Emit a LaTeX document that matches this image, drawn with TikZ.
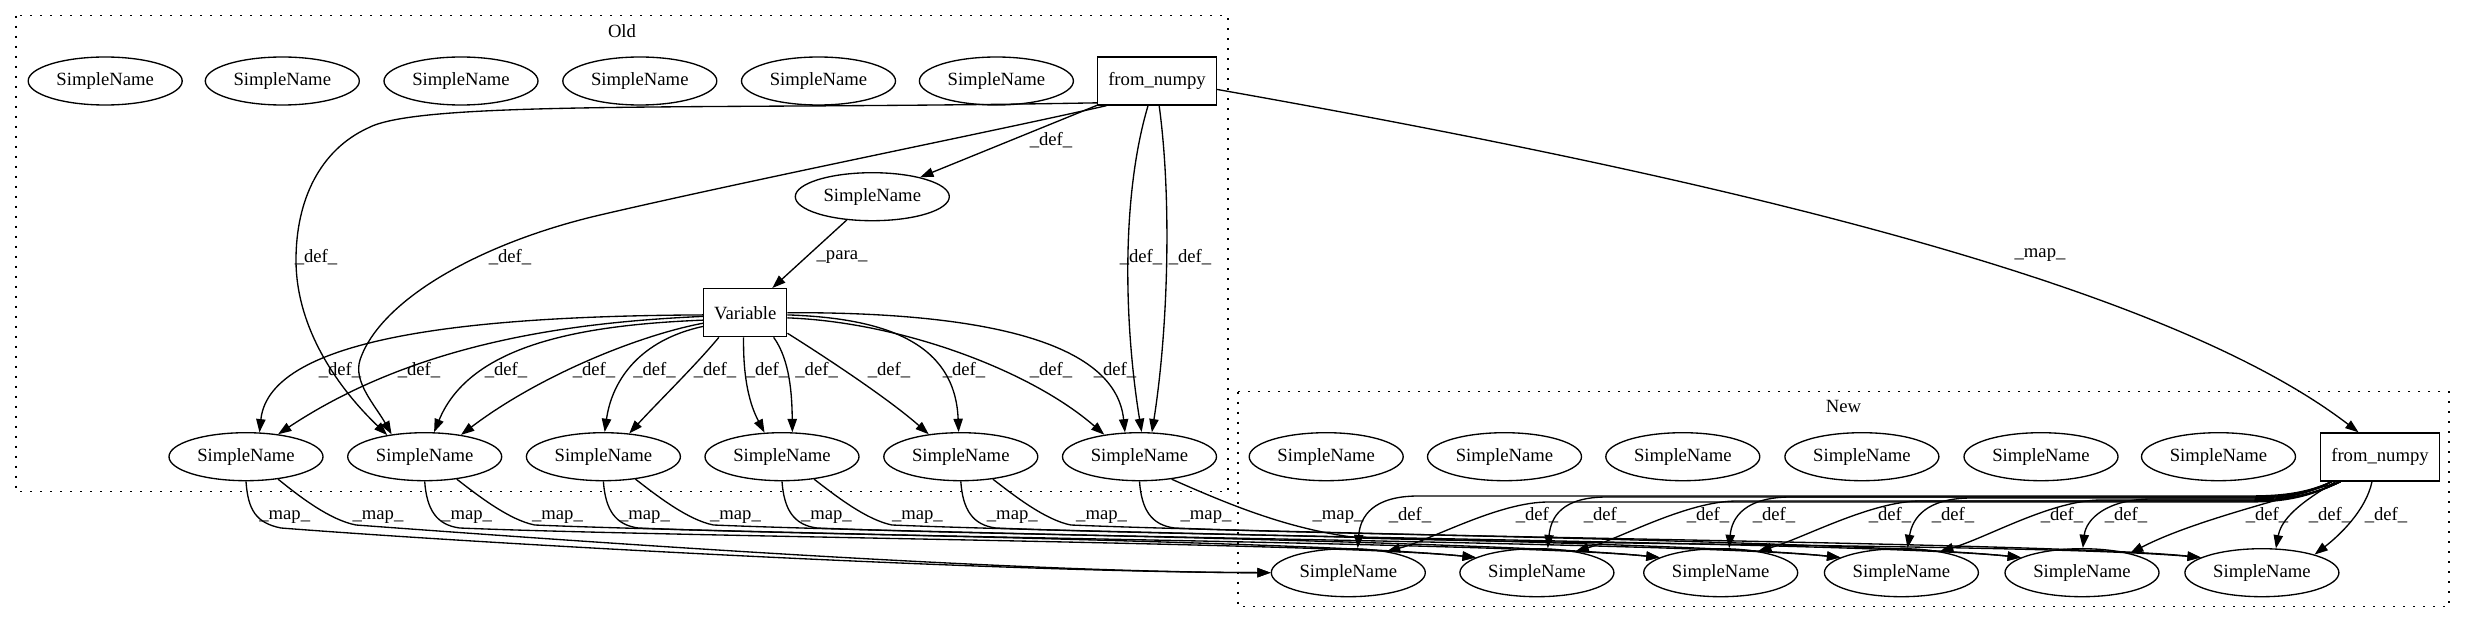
\documentclass[tikz,border=0pt]{standalone}
\usepackage{fontspec}
\setmainfont{Liberation Serif}
\usetikzlibrary{arrows.meta,shapes.geometric}
\begin{document}
\begin{tikzpicture}[x=0.75pt,y=-0.75pt,
  font=\fontsize{14}{16}\selectfont,
  sn/.style={draw, ellipse, minimum width=115.5pt, minimum height=36pt, inner sep=0pt, line width=1pt},
  box/.style={draw, rectangle, minimum height=36pt, inner sep=0pt, line width=1pt},
  edge/.style={-{Triangle[length=10pt,width=7pt]}, line width=1pt},
  lbl/.style={inner sep=0pt},
  cluster/.style={line width=1pt, dash pattern=on 1.5pt off 6pt}]
\useasboundingbox (0,0) rectangle (2467,624);

% clusters
\draw[cluster] (16,15.7) rectangle (1228,491.7);
\node[lbl] (oldlbl) at (622,30.7) {Old};
\draw[cluster] (1238,391.7) rectangle (2449,606.7);
\node[lbl] (newlbl) at (1843.5,406.7) {New};

% Old nodes
\foreach \i/\x in {1/105.2,2/282.3,3/461,4/639.8,5/818.5,6/996.4}
  \node[sn] (t\i) at (\x,81) {SimpleName};
\node[box, minimum width=89pt] (ofn) at (1157,81) {from\_numpy};
\node[sn] (mid) at (872.3,196.7) {SimpleName};
\node[box, minimum width=62.25pt] (var) at (745.3,312.7) {Variable};
\foreach \i/\x in {1/246,2/424.7,3/603.4,4/782,5/960.8,6/1139.5}
  \node[sn] (o\i) at (\x,456.7) {SimpleName};

% New nodes
\foreach \i/\x in {1/1326.2,2/1504.5,3/1682.8,4/1861.9,5/2041,6/2218.5}
  \node[sn] (u\i) at (\x,456.7) {SimpleName};
\node[box, minimum width=89pt] (nfn) at (2380,457) {from\_numpy};
\foreach \i/\x in {1/1348.3,2/1536.9,3/1720.7,4/1901.4,5/2082,6/2261.9}
  \node[sn] (n\i) at (\x,572.7) {SimpleName};

% Old from_numpy edges
\draw[edge] (ofn) -- (mid);
\node[lbl] (l01) at (1051,140) {\_def\_};
\draw[edge] (mid) -- (var);
\node[lbl] (l02) at (842,257) {\_para\_};
\draw[edge] (ofn.200) .. controls (700,110) and (420,100) .. (368,128)
  .. controls (320,150) and (296,200) .. (296,260)
  .. controls (296,330) and (340,390) .. (o2.150);
\node[lbl] (l03) at (316,257) {\_def\_};
\draw[edge] (ofn.206) .. controls (1000,130) and (750,180) .. (600,215)
  .. controls (480,243) and (380,300) .. (360,360)
  .. controls (353,382) and (375,405) .. (o2.146);
\node[lbl] (l04) at (510,257) {\_def\_};
\draw[edge] (ofn.250) .. controls (1120,200) and (1125,330) .. (o6.85);
\draw[edge] (ofn.275) .. controls (1172,200) and (1168,330) .. (o6.63);
\node[lbl] (l05) at (1141,257) {\_def\_};
\node[lbl] (l06) at (1190,257) {\_def\_};

% Variable edges
\draw[edge] (var.183) .. controls (480,316) and (270,335) .. (o1.61);
\draw[edge] (var.185) .. controls (580,322) and (420,340) .. (o1.35);
\draw[edge] (var.190) .. controls (580,325) and (470,345) .. (o2.69);
\draw[edge] (var.194) .. controls (640,335) and (540,375) .. (o2.31);
\draw[edge] (var.198) .. controls (640,340) and (612,380) .. (o3.87);
\draw[edge] (var.223) .. controls (695,366) and (660,400) .. (o3.42);
\draw[edge] (var.266) .. controls (743,380) and (750,405) .. (o4.126);
\draw[edge] (var.319) .. controls (790,360) and (792,395) .. (o4.67);
\draw[edge] (var.-26) .. controls (830,360) and (890,400) .. (o5.145);
\draw[edge] (var.-3) .. controls (880,318) and (955,340) .. (o5.95);
\draw[edge] (var.-7) .. controls (900,322) and (1030,370) .. (o6.148);
\draw[edge] (var.0) .. controls (960,312) and (1115,335) .. (o6.121);
\foreach \n/\x in {a/340,b/419,c/506,d/594,e/654.5,f/715,g/767,h/816.6,i/889,j/964,k/1051,l/1115}
  \node[lbl] (lv\n) at (\x,370) {\_def\_};

% map Old from_numpy -> New from_numpy
\draw[edge] (ofn.-8) .. controls (1700,175) and (2160,280) .. (nfn.131);
\node[lbl] (l07) at (2040,255) {\_map\_};

% map edges Old SimpleName -> New SimpleName
\draw[edge] (o1.-90) .. controls (248,510) and (256,523) .. (281,528)
  .. controls (500,545) and (1000,572) .. (n1.180);
\draw[edge] (o1.-35) .. controls (300,497) and (330,520) .. (356,525)
  .. controls (560,540) and (1000,572) .. (n1.180);
\foreach \i/\x/\tx in {2/424.7/1536.9,3/603.4/1720.7,4/782/1901.4,5/960.8/2082,6/1139.5/2261.9}
  \draw[edge] (o\i.-90) .. controls (\x+2,510) and (\x+12,525) .. (\x+35,528)
    .. controls (\x+250,537) and (\tx-200,543) .. (n\i.166);
\foreach \i/\x/\tx in {2/424.7/1536.9,3/603.4/1720.7,4/782/1901.4,5/960.8/2082}
  \draw[edge] (o\i.-35) .. controls (\x+55,497) and (\x+85,520) .. (\x+110,525)
    .. controls (\x+300,533) and (\tx-220,541) .. (n\i.166);
\draw[edge] (o6.-35) .. controls (1230,505) and (1290,530) .. (1360,538)
  .. controls (1600,545) and (2060,545) .. (n6.166);
\foreach \n/\x in {a/284.7,b/378,c/466.6,d/557.5,e/644.5,f/735.5,g/826.4,h/917.4,i/1012.3,j/1101.6,k/1206,l/1338}
  \node[lbl] (lm\n) at (\x,517) {\_map\_};

% New from_numpy edges
\foreach \k/\tx/\ang/\dx/\h in {1/1348.3/69/9/496,2/1536.9/66/11/497,3/1720.7/71/8/497,4/1901.4/76/8/498,5/2082/88/1/499}
  \draw[edge] (nfn.207) .. controls (2300,\h) and (2270,\h) .. (2240,\h) -- (\tx+70,\h)
    .. controls (\tx+25,\h) and (\tx+\dx+3,\h+20) .. (n\k.\ang);
\foreach \k/\tx/\ang/\dx/\h in {1/1348.3/29/38/502,2/1536.9/29.6/37/501,3/1720.7/30.5/36/501,4/1901.4/29/40/500}
  \draw[edge] (nfn.212) .. controls (2300,\h) and (2270,\h) .. (2240,\h) -- (\tx+200,\h)
    .. controls (\tx+150,\h) and (\tx+\dx+45,\h+38) .. (n\k.\ang);
\draw[edge] (nfn.212) .. controls (2280,500) and (2190,522) .. (n5.22);
\draw[edge] (nfn.209) .. controls (2310,497) and (2282,515) .. (n6.60);
\draw[edge] (nfn.252) .. controls (2366,510) and (2340,535) .. (n6.19);
\foreach \n/\x in {a/1410,b/1537,c/1605,d/1708,e/1774,f/1890,g/1953,h/2062,i/2126,j/2267,k/2330,l/2386}
  \node[lbl] (ln\n) at (\x,515) {\_def\_};
\end{tikzpicture}
\end{document}
